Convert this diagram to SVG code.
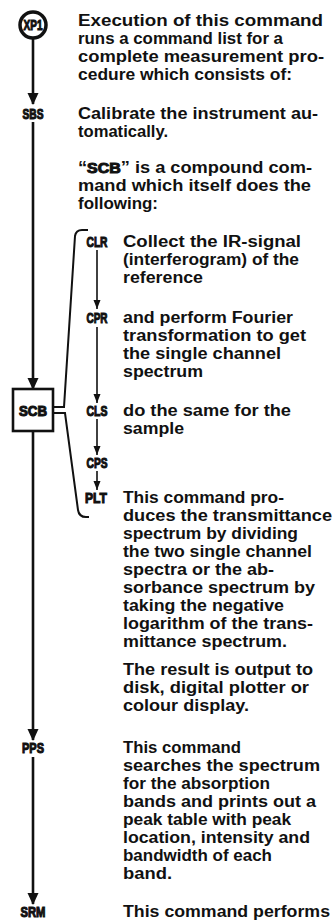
<svg xmlns="http://www.w3.org/2000/svg" width="336" height="922" viewBox="0 0 336 922">
<defs>
<marker id="ah" markerUnits="userSpaceOnUse" markerWidth="12" markerHeight="12" viewBox="0 0 12 12" refX="11" refY="6" orient="auto"><path d="M0,0.5 L12,6 L0,11.5 Z" fill="#111"/></marker>
<marker id="ahs" markerUnits="userSpaceOnUse" markerWidth="9" markerHeight="8" viewBox="0 0 9 8" refX="9" refY="4" orient="auto"><path d="M0,0.5 L9,4 L0,7.5 Z" fill="#111"/></marker>
<style>
.t{font-family:"Liberation Sans",Arial,sans-serif;font-weight:bold;font-size:16px;fill:#111}
.l{font-family:"Liberation Sans",Arial,sans-serif;font-weight:bold;font-size:15px;fill:#111;stroke:#111;stroke-width:1.1;text-anchor:middle}
.m{fill:none;stroke:#111;stroke-width:2.6}
.s{fill:none;stroke:#111;stroke-width:1.6}
.b{fill:none;stroke:#111;stroke-width:2}
</style>
</defs>
<rect width="336" height="922" fill="#fff"/>
<g id="connectors">
<path class="m" d="M33,38 V104" marker-end="url(#ah)"/>
<path class="m" d="M33,122 V389" marker-end="url(#ah)"/>
<path class="m" d="M33,431 V740" marker-end="url(#ah)"/>
<path class="m" d="M33,757 V904" marker-end="url(#ah)"/>
<path class="s" d="M97,250 V309" marker-end="url(#ahs)"/>
<path class="s" d="M97,327 V403" marker-end="url(#ahs)"/>
<path class="s" d="M97,419 V455" marker-end="url(#ahs)"/>
<path class="s" d="M97,471 V490" marker-end="url(#ahs)"/>
<path class="b" d="M53,407 H64 L75,236 Q76,230 82,230 H88"/>
<path class="b" d="M53,413 H65 L78,510 Q79,517 86,517 H89"/>
</g>
<g id="XP1">
<circle cx="33" cy="25" r="13" fill="#fff" stroke="#111" stroke-width="3.5"/>
<text class="l" x="33" y="30" font-size="12" stroke-width="0.8" textLength="19" lengthAdjust="spacingAndGlyphs">XP1</text>
<text class="t" x="78" y="25.5" textLength="245" lengthAdjust="spacingAndGlyphs">Execution of this command</text>
<text class="t" x="78" y="43.5" textLength="205" lengthAdjust="spacingAndGlyphs">runs a command list for a</text>
<text class="t" x="78" y="61.5" textLength="246" lengthAdjust="spacingAndGlyphs">complete measurement pro-</text>
<text class="t" x="78" y="79.5" textLength="214" lengthAdjust="spacingAndGlyphs">cedure which consists of:</text>
</g>
<g id="SBS">
<text class="l" x="33" y="118.5" textLength="21" lengthAdjust="spacingAndGlyphs">SBS</text>
<text class="t" x="78" y="118.5" textLength="240" lengthAdjust="spacingAndGlyphs">Calibrate the instrument au-</text>
<text class="t" x="78" y="136.5" textLength="90" lengthAdjust="spacingAndGlyphs">tomatically.</text>
<text class="t" x="78" y="172.5" textLength="234" lengthAdjust="spacingAndGlyphs">“<tspan font-size="14" stroke="#111" stroke-width="1">SCB</tspan>” is a compound com-</text>
<text class="t" x="78" y="190.5" textLength="233" lengthAdjust="spacingAndGlyphs">mand which itself does the</text>
<text class="t" x="78" y="208.5" textLength="80" lengthAdjust="spacingAndGlyphs">following:</text>
</g>
<g id="SCB">
<rect x="13" y="389" width="40" height="42" fill="#fff" stroke="#111" stroke-width="2.6"/>
<text class="l" x="33" y="415.5" textLength="28" lengthAdjust="spacingAndGlyphs">SCB</text>
</g>
<g id="CLR">
<text class="l" x="97" y="246.5" textLength="21" lengthAdjust="spacingAndGlyphs">CLR</text>
<text class="t" x="123" y="246.5" textLength="178" lengthAdjust="spacingAndGlyphs">Collect the IR-signal</text>
<text class="t" x="123" y="264.5" textLength="176" lengthAdjust="spacingAndGlyphs">(interferogram) of the</text>
<text class="t" x="123" y="282.5" textLength="80" lengthAdjust="spacingAndGlyphs">reference</text>
</g>
<g id="CPR">
<text class="l" x="97" y="322.5" textLength="21" lengthAdjust="spacingAndGlyphs">CPR</text>
<text class="t" x="123" y="322.5" textLength="170" lengthAdjust="spacingAndGlyphs">and perform Fourier</text>
<text class="t" x="123" y="340.5" textLength="183" lengthAdjust="spacingAndGlyphs">transformation to get</text>
<text class="t" x="123" y="358.5" textLength="158" lengthAdjust="spacingAndGlyphs">the single channel</text>
<text class="t" x="123" y="376.5" textLength="80" lengthAdjust="spacingAndGlyphs">spectrum</text>
</g>
<g id="CLS">
<text class="l" x="97" y="415.5" textLength="21" lengthAdjust="spacingAndGlyphs">CLS</text>
<text class="t" x="123" y="415.5" textLength="168" lengthAdjust="spacingAndGlyphs">do the same for the</text>
<text class="t" x="123" y="433.5" textLength="61" lengthAdjust="spacingAndGlyphs">sample</text>
</g>
<g id="CPS">
<text class="l" x="97" y="467.5" textLength="21" lengthAdjust="spacingAndGlyphs">CPS</text>
</g>
<g id="PLT">
<text class="l" x="96" y="502.5" textLength="22" lengthAdjust="spacingAndGlyphs">PLT</text>
<text class="t" x="123" y="502.5" textLength="161" lengthAdjust="spacingAndGlyphs">This command pro-</text>
<text class="t" x="123" y="520.5" textLength="209" lengthAdjust="spacingAndGlyphs">duces the transmittance</text>
<text class="t" x="123" y="538.5" textLength="175" lengthAdjust="spacingAndGlyphs">spectrum by dividing</text>
<text class="t" x="123" y="556.5" textLength="189" lengthAdjust="spacingAndGlyphs">the two single channel</text>
<text class="t" x="123" y="574.5" textLength="151" lengthAdjust="spacingAndGlyphs">spectra or the ab-</text>
<text class="t" x="123" y="592.5" textLength="192" lengthAdjust="spacingAndGlyphs">sorbance spectrum by</text>
<text class="t" x="123" y="610.5" textLength="161" lengthAdjust="spacingAndGlyphs">taking the negative</text>
<text class="t" x="123" y="628.5" textLength="190" lengthAdjust="spacingAndGlyphs">logarithm of the trans-</text>
<text class="t" x="123" y="646.5" textLength="164" lengthAdjust="spacingAndGlyphs">mittance spectrum.</text>
<text class="t" x="123" y="674.5" textLength="190" lengthAdjust="spacingAndGlyphs">The result is output to</text>
<text class="t" x="123" y="692.5" textLength="186" lengthAdjust="spacingAndGlyphs">disk, digital plotter or</text>
<text class="t" x="123" y="710.5" textLength="126" lengthAdjust="spacingAndGlyphs">colour display.</text>
</g>
<g id="PPS">
<text class="l" x="33" y="752.5" textLength="22" lengthAdjust="spacingAndGlyphs">PPS</text>
<text class="t" x="123" y="752.5" textLength="118" lengthAdjust="spacingAndGlyphs">This command</text>
<text class="t" x="123" y="770.5" textLength="197" lengthAdjust="spacingAndGlyphs">searches the spectrum</text>
<text class="t" x="123" y="788.5" textLength="147" lengthAdjust="spacingAndGlyphs">for the absorption</text>
<text class="t" x="123" y="806.5" textLength="193" lengthAdjust="spacingAndGlyphs">bands and prints out a</text>
<text class="t" x="123" y="824.5" textLength="168" lengthAdjust="spacingAndGlyphs">peak table with peak</text>
<text class="t" x="123" y="842.5" textLength="187" lengthAdjust="spacingAndGlyphs">location, intensity and</text>
<text class="t" x="123" y="860.5" textLength="149" lengthAdjust="spacingAndGlyphs">bandwidth of each</text>
<text class="t" x="123" y="878.5" textLength="49" lengthAdjust="spacingAndGlyphs">band.</text>
</g>
<g id="SRM">
<text class="l" x="33" y="916.5" textLength="25" lengthAdjust="spacingAndGlyphs">SRM</text>
<text class="t" x="123" y="916.5" textLength="207" lengthAdjust="spacingAndGlyphs">This command performs</text>
</g>
</svg>
